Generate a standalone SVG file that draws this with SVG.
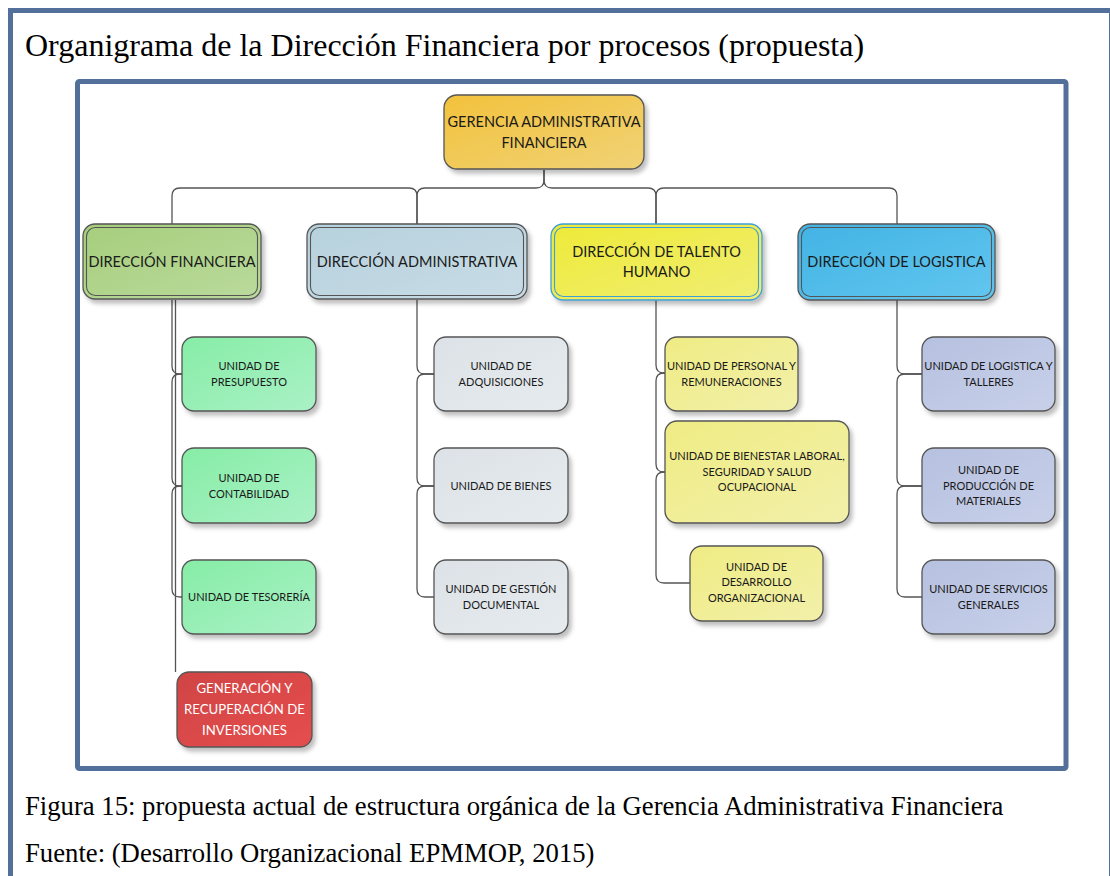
<svg xmlns="http://www.w3.org/2000/svg" width="1110" height="876" viewBox="0 0 1110 876">
<style>
.frame{fill:none;stroke:#52709A;}
.conn path{fill:none;stroke:#555;stroke-width:1.3;}
.nb{stroke:#555;stroke-width:1.3;}
.t{font-family:Lato,"Open Sans",sans-serif;fill:#1a1a1a;text-anchor:middle;}
.tu{font-size:11px;}
.td{font-size:14.5px;}
.tw{font-size:13.2px;fill:#fff;}
.cap{font-family:"Liberation Serif","Times New Roman",serif;fill:#000;}
</style>
<defs>
<filter id="sh" x="-10%" y="-10%" width="130%" height="140%">
<feDropShadow dx="3" dy="4" stdDeviation="2" flood-color="#000" flood-opacity="0.25"/>
</filter>
<linearGradient id="gGer" x1="0" y1="0" x2="1" y2="1"><stop offset="0" stop-color="#F2C23C"/><stop offset="1" stop-color="#F0D276"/></linearGradient>
<linearGradient id="gFin" x1="0" y1="0" x2="1" y2="1"><stop offset="0" stop-color="#A6CE7C"/><stop offset="1" stop-color="#BADA9C"/></linearGradient>
<linearGradient id="gAdm" x1="0" y1="0" x2="1" y2="1"><stop offset="0" stop-color="#B6D1DD"/><stop offset="1" stop-color="#C8DCE6"/></linearGradient>
<linearGradient id="gTH" x1="0" y1="0" x2="1" y2="1"><stop offset="0" stop-color="#EEEA38"/><stop offset="1" stop-color="#F0EE74"/></linearGradient>
<linearGradient id="gLog" x1="0" y1="0" x2="1" y2="1"><stop offset="0" stop-color="#42B3E4"/><stop offset="1" stop-color="#62C6EF"/></linearGradient>
<linearGradient id="gUF" x1="0" y1="0" x2="1" y2="1"><stop offset="0" stop-color="#86EDA6"/><stop offset="1" stop-color="#AAF1C6"/></linearGradient>
<linearGradient id="gUA" x1="0" y1="0" x2="1" y2="1"><stop offset="0" stop-color="#DCE2E7"/><stop offset="1" stop-color="#E6EBEE"/></linearGradient>
<linearGradient id="gUT" x1="0" y1="0" x2="1" y2="1"><stop offset="0" stop-color="#EFEC84"/><stop offset="1" stop-color="#F2F0AA"/></linearGradient>
<linearGradient id="gUL" x1="0" y1="0" x2="1" y2="1"><stop offset="0" stop-color="#B6C1E0"/><stop offset="1" stop-color="#C8D0E9"/></linearGradient>
<linearGradient id="gRed" x1="0" y1="0" x2="1" y2="1"><stop offset="0" stop-color="#D04444"/><stop offset="1" stop-color="#E64E4E"/></linearGradient>
</defs>
<rect width="1110" height="876" fill="#fff"/>
<rect class="frame" x="10.5" y="10.5" width="1101" height="900" stroke-width="5"/>
<text class="cap" x="25" y="56" font-size="32">Organigrama de la Dirección Financiera por procesos (propuesta)</text>
<rect class="frame" x="77.5" y="81.5" width="988.5" height="687" stroke-width="5" rx="2"/>
<text class="cap" x="25" y="815" font-size="26.7">Figura 15: propuesta actual de estructura orgánica de la Gerencia Administrativa Financiera</text>
<text class="cap" x="25" y="862" font-size="26.7">Fuente: (Desarrollo Organizacional EPMMOP, 2015)</text>

<g id="connectors" class="conn">
<path d="M544,170 V180 Q544,188 536,188 H425 Q417,188 417,196 V224"/>
<path d="M417,224 V196 Q417,188 409,188 H180 Q172,188 172,196 V224"/>
<path d="M544,170 V180 Q544,188 552,188 H648 Q656,188 656,196 V224"/>
<path d="M656,224 V196 Q656,188 664,188 H889 Q897,188 897,196 V224"/>
<path d="M172,300 V366 Q172,374 180,374 H182"/>
<path d="M182,374 H180 Q172,374 172,382 V478 Q172,486 180,486 H182"/>
<path d="M182,486 H180 Q172,486 172,494 V589 Q172,597 180,597 H182"/>
<path d="M175.5,300 V672"/>
<path d="M417,300 V366 Q417,374 425,374 H434"/>
<path d="M434,374 H425 Q417,374 417,382 V478 Q417,486 425,486 H434"/>
<path d="M434,486 H425 Q417,486 417,494 V589 Q417,597 425,597 H434"/>
<path d="M656,300 V365 Q656,373 664,373 H665"/>
<path d="M665,373 H664 Q656,373 656,381 V464 Q656,472 664,472 H665"/>
<path d="M665,472 H664 Q656,472 656,480 V575 Q656,583 664,583 H690"/>
<path d="M897,300 V366 Q897,374 905,374 H922"/>
<path d="M922,374 H905 Q897,374 897,382 V478 Q897,486 905,486 H922"/>
<path d="M922,486 H905 Q897,486 897,494 V589 Q897,597 905,597 H922"/>
</g>

<g id="gerencia">
<rect class="nb" x="444" y="95" width="200" height="74" rx="13" fill="url(#gGer)" filter="url(#sh)"/>
<text class="t" x="544" y="127" font-size="14.5">GERENCIA ADMINISTRATIVA</text>
<text class="t" x="544" y="148" font-size="14.5">FINANCIERA</text>
</g>

<g id="dir-financiera">
<rect class="nb" x="83" y="224" width="178" height="75" rx="12" fill="url(#gFin)" filter="url(#sh)"/>
<rect x="86.5" y="227.5" width="171" height="68" rx="9" fill="none" stroke="#555" stroke-width="1.1"/>
<text class="t td" x="172" y="267">DIRECCIÓN FINANCIERA</text>
</g>
<g id="dir-administrativa">
<rect class="nb" x="307" y="224" width="220" height="75" rx="12" fill="url(#gAdm)" filter="url(#sh)"/>
<rect x="310.5" y="227.5" width="213" height="68" rx="9" fill="none" stroke="#555" stroke-width="1.1"/>
<text class="t td" x="417" y="267">DIRECCIÓN ADMINISTRATIVA</text>
</g>
<g id="dir-talento">
<rect x="551" y="224" width="211" height="76" rx="12" fill="url(#gTH)" stroke="#3E9ED6" stroke-width="1.3" filter="url(#sh)"/>
<rect x="554.5" y="227.5" width="204" height="69" rx="9" fill="none" stroke="#3E9ED6" stroke-width="1.1"/>
<text class="t td" x="656.5" y="257">DIRECCIÓN DE TALENTO</text>
<text class="t td" x="656.5" y="277">HUMANO</text>
</g>
<g id="dir-logistica">
<rect class="nb" x="798" y="224" width="197" height="76" rx="12" fill="url(#gLog)" filter="url(#sh)"/>
<rect x="801.5" y="227.5" width="190" height="69" rx="9" fill="none" stroke="#555" stroke-width="1.1"/>
<text class="t td" x="896.5" y="267">DIRECCIÓN DE LOGISTICA</text>
</g>

<g id="u-presupuesto">
<rect class="nb" x="182" y="337" width="134" height="74" rx="12" fill="url(#gUF)" filter="url(#sh)"/>
<text class="t tu" x="249" y="370">UNIDAD DE</text>
<text class="t tu" x="249" y="386">PRESUPUESTO</text>
</g>
<g id="u-contabilidad">
<rect class="nb" x="182" y="448" width="134" height="75" rx="12" fill="url(#gUF)" filter="url(#sh)"/>
<text class="t tu" x="249" y="482">UNIDAD DE</text>
<text class="t tu" x="249" y="498">CONTABILIDAD</text>
</g>
<g id="u-tesoreria">
<rect class="nb" x="182" y="560" width="134" height="74" rx="12" fill="url(#gUF)" filter="url(#sh)"/>
<text class="t tu" x="249" y="601">UNIDAD DE TESORERÍA</text>
</g>
<g id="u-inversiones">
<rect class="nb" x="177" y="672" width="135" height="75" rx="12" fill="url(#gRed)" filter="url(#sh)"/>
<text class="t tw" x="244.5" y="693">GENERACIÓN Y</text>
<text class="t tw" x="244.5" y="714">RECUPERACIÓN DE</text>
<text class="t tw" x="244.5" y="735">INVERSIONES</text>
</g>

<g id="u-adquisiciones">
<rect class="nb" x="434" y="337" width="134" height="74" rx="12" fill="url(#gUA)" filter="url(#sh)"/>
<text class="t tu" x="501" y="370">UNIDAD DE</text>
<text class="t tu" x="501" y="386">ADQUISICIONES</text>
</g>
<g id="u-bienes">
<rect class="nb" x="434" y="448" width="134" height="75" rx="12" fill="url(#gUA)" filter="url(#sh)"/>
<text class="t tu" x="501" y="490">UNIDAD DE BIENES</text>
</g>
<g id="u-gestion">
<rect class="nb" x="434" y="560" width="134" height="74" rx="12" fill="url(#gUA)" filter="url(#sh)"/>
<text class="t tu" x="501" y="593">UNIDAD DE GESTIÓN</text>
<text class="t tu" x="501" y="609">DOCUMENTAL</text>
</g>

<g id="u-personal">
<rect class="nb" x="665" y="337" width="133" height="74" rx="12" fill="url(#gUT)" filter="url(#sh)"/>
<text class="t tu" x="731.5" y="370">UNIDAD DE PERSONAL Y</text>
<text class="t tu" x="731.5" y="386">REMUNERACIONES</text>
</g>
<g id="u-bienestar">
<rect class="nb" x="665" y="421" width="184" height="102" rx="12" fill="url(#gUT)" filter="url(#sh)"/>
<text class="t tu" x="757" y="460">UNIDAD DE BIENESTAR LABORAL,</text>
<text class="t tu" x="757" y="476">SEGURIDAD Y SALUD</text>
<text class="t tu" x="757" y="491">OCUPACIONAL</text>
</g>
<g id="u-desarrollo">
<rect class="nb" x="690" y="546" width="133" height="75" rx="12" fill="url(#gUT)" filter="url(#sh)"/>
<text class="t tu" x="756.5" y="571">UNIDAD DE</text>
<text class="t tu" x="756.5" y="586">DESARROLLO</text>
<text class="t tu" x="756.5" y="602">ORGANIZACIONAL</text>
</g>

<g id="u-logistica">
<rect class="nb" x="922" y="337" width="133" height="74" rx="12" fill="url(#gUL)" filter="url(#sh)"/>
<text class="t tu" x="988.5" y="370">UNIDAD DE LOGISTICA Y</text>
<text class="t tu" x="988.5" y="386">TALLERES</text>
</g>
<g id="u-produccion">
<rect class="nb" x="922" y="448" width="133" height="75" rx="12" fill="url(#gUL)" filter="url(#sh)"/>
<text class="t tu" x="988.5" y="474">UNIDAD DE</text>
<text class="t tu" x="988.5" y="490">PRODUCCIÓN DE</text>
<text class="t tu" x="988.5" y="505">MATERIALES</text>
</g>
<g id="u-servicios">
<rect class="nb" x="922" y="560" width="133" height="74" rx="12" fill="url(#gUL)" filter="url(#sh)"/>
<text class="t tu" x="988.5" y="593">UNIDAD DE SERVICIOS</text>
<text class="t tu" x="988.5" y="609">GENERALES</text>
</g>
</svg>
